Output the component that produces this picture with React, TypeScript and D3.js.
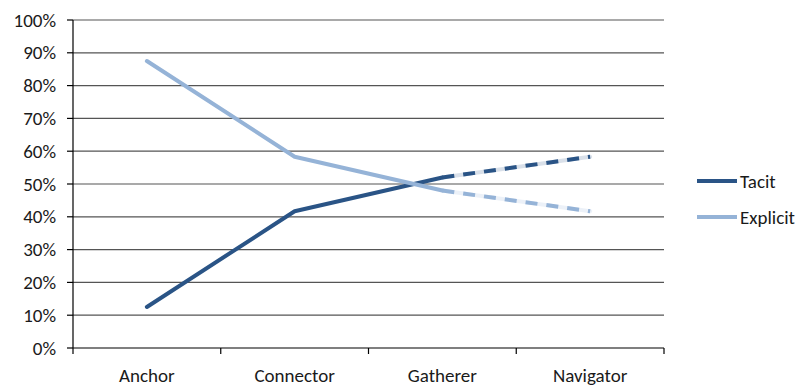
import React from "react";
import * as d3 from "d3";

const categories = ["Anchor", "Connector", "Gatherer", "Navigator"];
const tacit = [0.125, 0.417, 0.52, 0.583];
const explicit = [0.875, 0.583, 0.48, 0.417];
const yTicks = [0, 0.1, 0.2, 0.3, 0.4, 0.5, 0.6, 0.7, 0.8, 0.9, 1.0];
const seriesNames = ["Tacit", "Explicit"];
const seriesColors = ["#2A5486", "#95B3D7"];

const W = 802;
const H = 386;
const left = 73;
const right = 664;
const top = 20;
const bottom = 348;
const font = "Carlito, Lato, 'Open Sans', sans-serif";
const fs = 19;

export default function App() {
  const x = d3.scaleBand<string>().domain(categories).range([left, right]);
  const y = d3.scaleLinear().domain([0, 1]).range([bottom, top]);
  const cx = (c: string) => (x(c) as number) + x.bandwidth() / 2;
  const line = d3
    .line<[string, number]>()
    .x((d) => cx(d[0]))
    .y((d) => y(d[1]));

  const series = [tacit, explicit];

  return (
    <svg
      width={W}
      height={H}
      style={{ position: "absolute", left: 0, top: 0, background: "#fff" }}
    >
      {yTicks.map((t) => (
        <g key={t}>
          <line
            x1={left}
            x2={right}
            y1={y(t)}
            y2={y(t)}
            stroke={t === 0 ? "#000" : "#555"}
            strokeWidth={1.2}
          />
          <line x1={left - 6} x2={left} y1={y(t)} y2={y(t)} stroke="#000" strokeWidth={1.2} />
          <text
            x={56}
            y={y(t)}
            dy="0.35em"
            textAnchor="end"
            fontFamily={font}
            fontSize={fs}
            fill="#1a1a1a"
          >
            {`${Math.round(t * 100)}%`}
          </text>
        </g>
      ))}
      <line x1={left} x2={left} y1={top} y2={bottom} stroke="#000" strokeWidth={1.2} />
      {[...categories.map((c) => x(c) as number), right].map((p, i) => (
        <line key={i} x1={p} x2={p} y1={bottom} y2={bottom + 6} stroke="#000" strokeWidth={1.2} />
      ))}
      {categories.map((c) => (
        <text
          key={c}
          x={cx(c)}
          y={375}
          dy="0.35em"
          textAnchor="middle"
          fontFamily={font}
          fontSize={fs}
          fill="#1a1a1a"
        >
          {c}
        </text>
      ))}

      {series.map((vals, si) => {
        const pts: [string, number][] = categories.map((c, i) => [c, vals[i]]);
        const solid = pts.slice(0, 3);
        const dashed = pts.slice(2);
        const col = seriesColors[si];
        return (
          <g key={si} fill="none" strokeLinecap="round" strokeLinejoin="round">
            <path d={line(solid) || ""} stroke={col} strokeWidth={4} />
            <path d={line(dashed) || ""} stroke={col} strokeWidth={4} strokeOpacity={0.18} />
            <path
              d={line(dashed) || ""}
              stroke={col}
              strokeWidth={4}
              strokeLinecap="butt"
              strokeDasharray="12 9"
            />
          </g>
        );
      })}

      {seriesNames.map((n, i) => {
        const ly = i === 0 ? 181 : 217;
        return (
          <g key={n}>
            <line x1={697} x2={737} y1={ly} y2={ly} stroke={seriesColors[i]} strokeWidth={4} />
            <text
              x={740}
              y={ly}
              dy="0.35em"
              fontFamily={font}
              fontSize={fs}
              fill="#1a1a1a"
            >
              {n}
            </text>
          </g>
        );
      })}
    </svg>
  );
}
